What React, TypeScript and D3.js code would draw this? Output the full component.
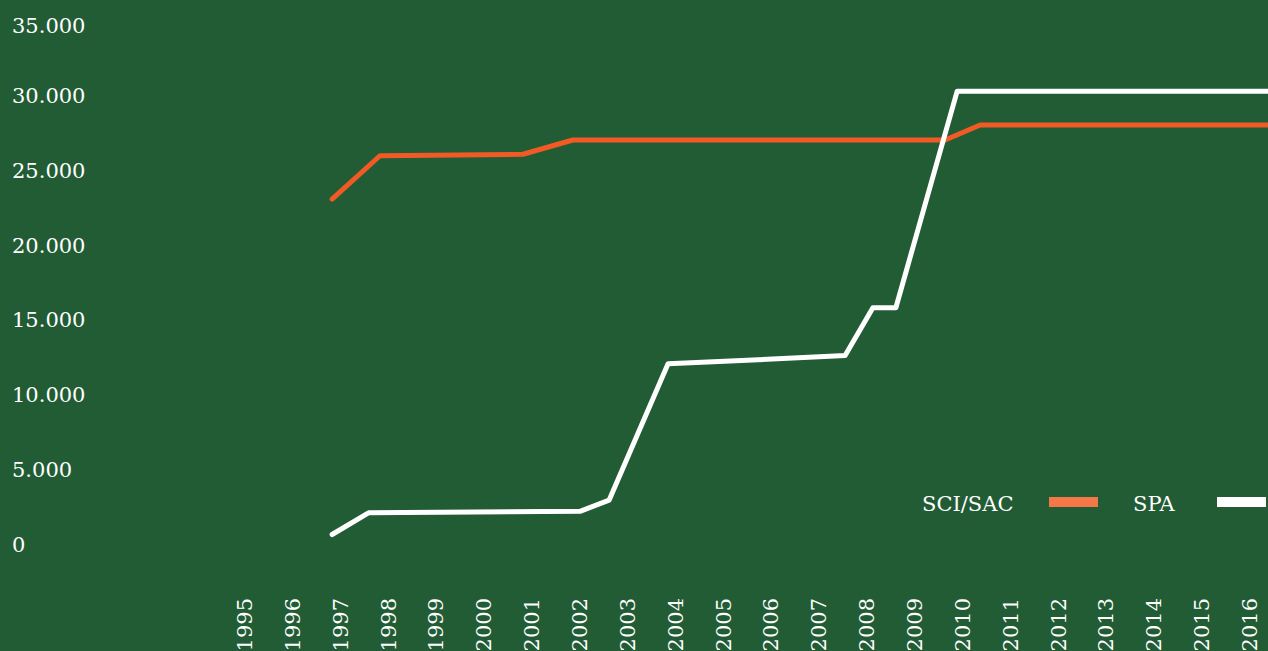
import { useRef, useEffect } from 'react';
import * as d3 from 'd3';

// Category labels on the x axis (one per year)
const YEARS = d3.range(1995, 2017);
// y axis tick values
const Y_TICKS = [0, 5000, 10000, 15000, 20000, 25000, 30000, 35000];

// SCI/SAC series (fractional year, value)
const SCI_DATES = [1996.82, 1997.82, 2000.81, 2001.85, 2009.63, 2010.36, 2016.5];
const SCI_VALUES = [23100, 26000, 26100, 27050, 27050, 28050, 28050];

// SPA series (fractional year, value)
const SPA_DATES = [1996.82, 1997.58, 2002.0, 2002.61, 2003.84, 2007.54, 2008.12, 2008.6, 2009.88, 2016.5];
const SPA_VALUES = [700, 2150, 2250, 3000, 12100, 12650, 15850, 15850, 30300, 30300];

const SERIES = [
  { name: 'SCI/SAC', dates: SCI_DATES, values: SCI_VALUES, color: '#f15a24', swatch: '#f47748' },
  { name: 'SPA', dates: SPA_DATES, values: SPA_VALUES, color: '#ffffff', swatch: '#ffffff' },
];

const fmt = (v: number) => (v === 0 ? '0' : d3.format(',')(v).replace(/,/g, '.'));

export default function App() {
  const ref = useRef<SVGSVGElement>(null);

  useEffect(() => {
    const svg = ref.current;
    if (!svg) return;
    const W = 1268, H = 651;
    const font = '"DejaVu Serif", serif';

    d3.select(svg).selectAll('*').remove();
    const g = d3.select(svg).attr('viewBox', `0 0 ${W} ${H}`).append('g');

    g.append('rect').attr('width', W).attr('height', H).attr('fill', '#225c35');

    const x = d3.scaleLinear().domain([1995, 2016]).range([245, 1250]);
    const y = d3.scaleLinear().domain([0, 35000]).range([545, 21]);

    // Y labels
    Y_TICKS.forEach((v) => {
      g.append('text')
        .attr('x', 12).attr('y', Math.max(y(v), 26) + 7)
        .attr('font-family', font).attr('font-size', 21).attr('fill', '#ffffff')
        .text(fmt(v));
    });

    // X labels, rotated
    YEARS.forEach((yr) => {
      const cx = x(yr) + 7;
      g.append('text')
        .attr('transform', `translate(${cx},598) rotate(-90)`)
        .attr('text-anchor', 'end')
        .attr('font-family', font).attr('font-size', 21).attr('fill', '#ffffff')
        .text(String(yr));
    });

    // Lines
    const line = d3.line<[number, number]>()
      .x((d) => x(d[0]))
      .y((d) => y(d[1]));

    SERIES.forEach((s) => {
      const pts = s.dates.map((d, i) => [d, s.values[i]] as [number, number]);
      g.append('path')
        .datum(pts)
        .attr('d', line)
        .attr('fill', 'none')
        .attr('stroke', s.color)
        .attr('stroke-width', 5)
        .attr('stroke-linecap', 'round')
        .attr('stroke-linejoin', 'round');
    });

    // Legend
    const legend = [
      { textX: 922, swX: 1049 },
      { textX: 1133, swX: 1217 },
    ];
    SERIES.forEach((s, i) => {
      g.append('text')
        .attr('x', legend[i].textX).attr('y', 511)
        .attr('font-family', font).attr('font-size', 21).attr('fill', '#ffffff')
        .text(s.name);
      g.append('rect')
        .attr('x', legend[i].swX).attr('y', 497)
        .attr('width', 49).attr('height', 10)
        .attr('fill', s.swatch);
    });
  }, []);

  return (
    <div>
      <style>{'body{margin:0;background:#225c35}'}</style>
      <svg ref={ref} width={1268} height={651} style={{ display: 'block' }} />
    </div>
  );
}
